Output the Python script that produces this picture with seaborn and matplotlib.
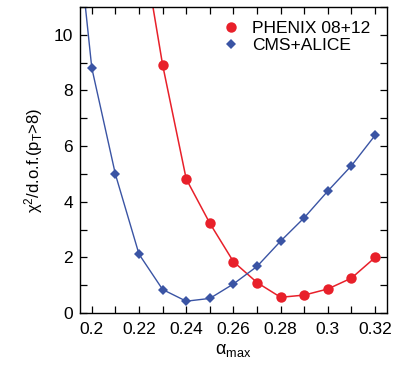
import matplotlib
matplotlib.use("Agg")
import matplotlib.pyplot as plt
from matplotlib.lines import Line2D
from matplotlib.ticker import MultipleLocator, FixedLocator
import seaborn as sns
import pandas as pd

# alpha_max scan values and chi^2/d.o.f. for each data set
alpha_phenix = [0.22, 0.23, 0.24, 0.25, 0.26, 0.27, 0.28, 0.29, 0.30, 0.31, 0.32]
chi2_phenix = [14.0, 8.92, 4.82, 3.23, 1.85, 1.10, 0.57, 0.65, 0.87, 1.26, 2.00]

alpha_cms = [0.19, 0.20, 0.21, 0.22, 0.23, 0.24, 0.25, 0.26, 0.27, 0.28, 0.29, 0.30, 0.31, 0.32]
chi2_cms = [16.9, 8.81, 4.99, 2.12, 0.85, 0.43, 0.53, 1.05, 1.68, 2.59, 3.43, 4.39, 5.30, 6.39]

series_labels = ["PHENIX 08+12", "CMS+ALICE"]
xtick_labels = ["0.2", "0.22", "0.24", "0.26", "0.28", "0.3", "0.32"]
ytick_labels = ["0", "2", "4", "6", "8", "10"]

RED = "#e8202a"
BLUE = "#3a54a4"

sns.set_theme(style="ticks")
plt.rcParams["font.family"] = ["Liberation Sans", "DejaVu Sans"]
plt.rcParams["mathtext.fontset"] = "custom"
plt.rcParams["mathtext.rm"] = "Liberation Sans"
plt.rcParams["mathtext.it"] = "Liberation Sans:italic"
plt.rcParams["text.color"] = "black"
plt.rcParams["axes.labelcolor"] = "black"

df_ph = pd.DataFrame({"alpha": alpha_phenix, "chi2": chi2_phenix})
df_cm = pd.DataFrame({"alpha": alpha_cms, "chi2": chi2_cms})

fig = plt.figure(figsize=(3.96, 3.68), dpi=100)
ax = fig.add_axes([0.202, 0.149, 0.775, 0.832])

sns.lineplot(data=df_ph, x="alpha", y="chi2", ax=ax, color=RED, lw=1.1,
             marker="o", markersize=7.5, markeredgewidth=0, sort=False)
sns.lineplot(data=df_cm, x="alpha", y="chi2", ax=ax, color=BLUE, lw=1.0,
             marker="D", markersize=5, markeredgewidth=0, sort=False)

ax.set_xlim(0.195, 0.325)
ax.set_ylim(0, 11)

xt = [float(t) for t in xtick_labels]
ax.xaxis.set_major_locator(FixedLocator(xt))
ax.set_xticklabels(xtick_labels)
ax.xaxis.set_minor_locator(MultipleLocator(0.01))
yt = [float(t) for t in ytick_labels]
ax.yaxis.set_major_locator(FixedLocator(yt))
ax.set_yticklabels(ytick_labels)
ax.yaxis.set_minor_locator(MultipleLocator(1))

ax.tick_params(which="both", direction="in", top=True, right=True,
               length=5, width=0.9, color="black", labelsize=12.5,
               labelcolor="black")
ax.tick_params(axis="x", pad=6)
ax.tick_params(axis="y", pad=5)
for s in ax.spines.values():
    s.set_linewidth(1.0)
    s.set_color("black")

ax.set_xlabel("α$_{\\mathrm{max}}$", fontsize=13, labelpad=4, color="black")
ax.set_ylabel("χ$^{2}$/d.o.f.(p$_{\\mathrm{T}}$>8)", fontsize=12, labelpad=6,
              color="black")

handles = [
    Line2D([], [], color=RED, marker="o", linestyle="none", markersize=7.5, markeredgewidth=0),
    Line2D([], [], color=BLUE, marker="D", linestyle="none", markersize=5, markeredgewidth=0),
]
leg = ax.legend(handles, series_labels, loc="upper right", frameon=False,
                fontsize=12.5, handletextpad=0.6, borderaxespad=0.3,
                labelspacing=0.1, handlelength=1.2, bbox_to_anchor=(0.985, 0.995))
for t in leg.get_texts():
    t.set_color("black")

fig.savefig("out.png", dpi=100)
